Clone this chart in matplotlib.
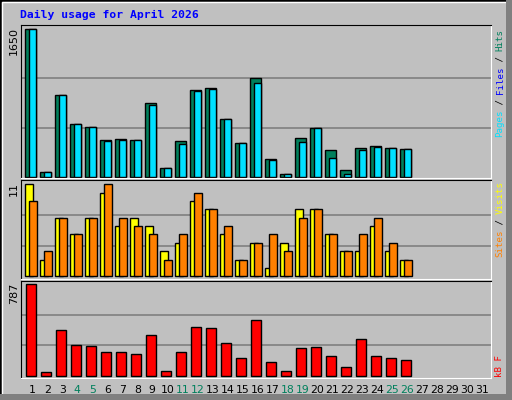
import numpy as np
import matplotlib
matplotlib.use('Agg')
from matplotlib import pyplot as plt
from matplotlib.patches import Rectangle

days = np.arange(1, 32)
hits = [1650, 49, 911, 586, 553, 407, 418, 407, 821, 93, 396, 971, 989, 642, 373,
        1101, 194, 26, 429, 541, 295, 71, 317, 340, 317, 306]
pages = [1650, 49, 911, 586, 553, 396, 407, 407, 799, 93, 362, 956, 978, 642, 373,
         1045, 183, 26, 384, 541, 205, 26, 295, 329, 317, 306]
visits = [11, 2, 7, 5, 7, 10, 6, 7, 6, 3, 4, 9, 8, 5, 2, 4, 1, 4, 8, 8, 5, 3, 3, 6, 3, 2]
sites = [9, 3, 7, 5, 7, 11, 7, 6, 5, 2, 5, 10, 8, 6, 2, 4, 5, 3, 7, 8, 5, 3, 5, 7, 4, 2]
kbytes = [787, 29, 391, 261, 253, 201, 201, 184, 348, 37, 201, 416, 408, 279, 149,
          477, 115, 37, 236, 244, 167, 72, 313, 167, 149, 132]
weekend = [4, 5, 11, 12, 18, 19, 25, 26]

W, H = 512, 400
fig = plt.figure(figsize=(W / 100, H / 100), dpi=100, facecolor='#C0C0C0')


def box(x0, y0, x1, y1):
    return [x0 / W, 1 - y1 / H, (x1 - x0) / W, (y1 - y0) / H]


# bevelled frame
fig.patches.append(Rectangle((0, 0), 1, 1, transform=fig.transFigure, fill=False,
                             ec='black', lw=2))
fig.patches.append(Rectangle((2 / W, 2 / H), 1 - 4 / W, 1 - 4 / H, transform=fig.transFigure,
                             fill=False, ec='white', lw=1))
fig.patches.append(Rectangle((0, 0), 1, 6 / H, transform=fig.transFigure, fc='#808080', ec='none'))
fig.patches.append(Rectangle((1 - 6 / W, 0), 6 / W, 1, transform=fig.transFigure, fc='#808080', ec='none'))

mono = 'DejaVu Sans Mono'
fig.text(20 / W, 1 - 15 / H, 'Daily usage for April 2026', color='#0000FF', family=mono,
         weight='bold', fontsize=8.2, va='center')

panels = [(25, 178, -15, 1698, '1650'), (180, 279, -0.32, 11.5, '11'), (281, 378, -20, 815, '787')]
axes = []
for y0, y1, lo, hi, lab in panels:
    ax = fig.add_axes(box(21, y0, 491, y1))
    ax.set_facecolor('#C0C0C0')
    ax.set_xlim(0, 31.33)
    ax.set_ylim(lo, hi)
    top = float(lab)
    for g in (top / 3, 2 * top / 3):
        ax.axhline(g, color='#808080', lw=1.2, zorder=0)
    ax.set_xticks([])
    ax.set_yticks([])
    for side in ('top', 'left'):
        ax.spines[side].set_color('black')
    for side in ('bottom', 'right'):
        ax.spines[side].set_color('white')
    fig.text(19 / W, 1 - (y0 + 2) / H, lab, rotation=90, ha='right', va='top',
             fontsize=8, family='DejaVu Sans')
    axes.append(ax)

n = len(hits)
x = days[:n] - 1
kw = dict(align='edge', ec='black', lw=1)
axes[0].bar(x + 0.27, hits, width=0.73, color='#00805C', **kw)
axes[0].bar(x + 0.53, pages, width=0.47, color='#00E0FF', **kw)
axes[1].bar(x + 0.29, visits, width=0.53, color='#FFFF00', **kw)
axes[1].bar(x + 0.55, sites, width=0.49, color='#FF8000', **kw)
axes[2].bar(x + 0.35, kbytes, width=0.67, color='#FF0000', **kw)


# right-side legends, reading bottom to top; ybottom in pixels from top
def side_label(parts, ybottom, step=5.4):
    y = ybottom
    for txt, col in parts:
        fig.text(500 / W, 1 - y / H, txt, rotation=90, color=col, family=mono,
                 fontsize=6.6, ha='center', va='bottom')
        y -= len(txt) * step


side_label([('Pages', '#00E0FF'), (' / ', '#000000'), ('Files', '#0000FF'),
            (' / ', '#000000'), ('Hits', '#00805C')], 137)
side_label([('Sites', '#FF8000'), (' / ', '#000000'), ('Visits', '#FFFF00')], 257)
side_label([('kB F', '#FF0000')], 377)

for d in days:
    axes[2].text(d - 1 + 0.75, -0.12, str(d), transform=axes[2].get_xaxis_transform(),
                 ha='center', va='center', fontsize=7.8,
                 color='#00805C' if d in weekend else 'black')

fig.savefig('out.png', dpi=100, facecolor=fig.get_facecolor())
